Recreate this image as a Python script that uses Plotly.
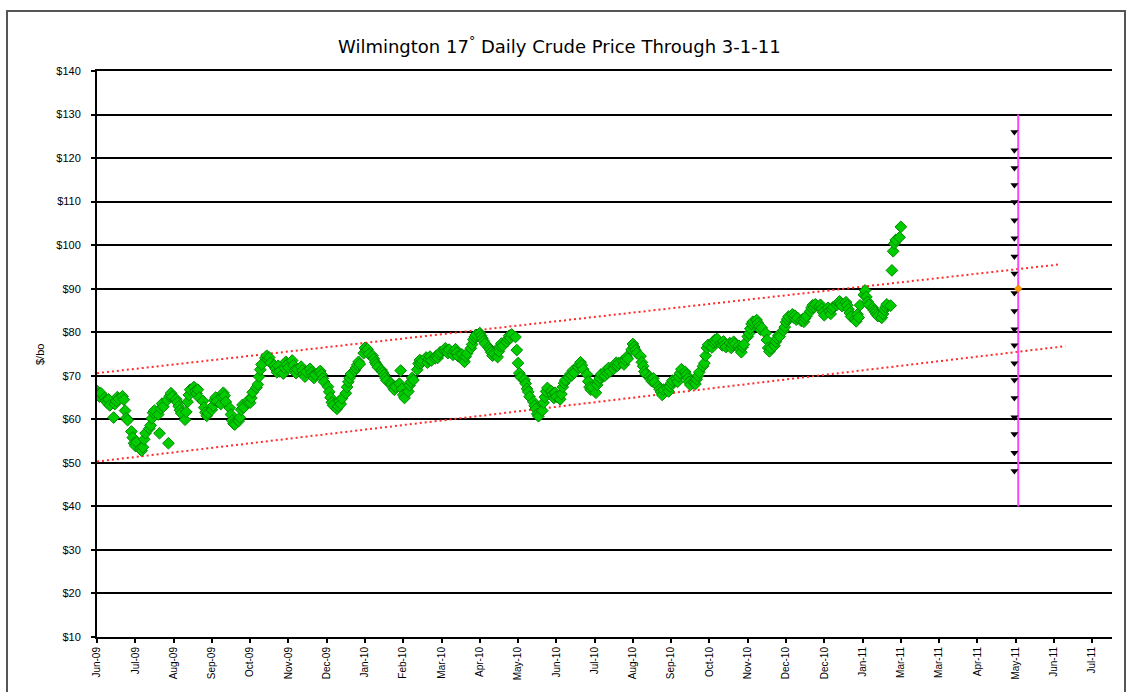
import pandas as pd
import plotly.graph_objects as go

title_text = "Wilmington 17<sup>°</sup> Daily Crude Price Through 3-1-11"
y_label = "$/bo"

# daily prices (business days) 2009-06-09 .. 2011-03-01, $/bo
price_start = "2009-06-09"
price_end = "2011-03-01"
prices = [
    66.5, 65.8, 65.2, 66.0, 64.9,
    64.3, 63.8, 64.6, 63.2, 60.4,
    63.5, 64.2, 65.1, 64.7, 65.3,
    64.5, 62.0, 60.3, 59.8, 57.2,
    55.8, 54.5, 53.9, 54.8, 53.3,
    52.8, 53.6, 55.4, 56.8, 57.9,
    58.6, 60.2, 61.5, 62.0, 61.1,
    56.8, 62.5, 63.6, 62.9, 64.4,
    54.5, 65.3, 66.0, 65.2, 64.6,
    63.9, 63.0, 62.1, 61.4, 59.9,
    61.7, 64.0, 65.6, 66.8, 67.4,
    66.5, 65.9, 66.8, 65.0, 64.2,
    62.7, 61.6, 60.8, 61.4, 62.2,
    63.1, 64.4, 65.0, 64.2, 63.5,
    65.2, 66.1, 65.4, 64.0, 62.6,
    61.1, 59.7, 59.0, 58.8, 59.6,
    60.4, 62.2, 63.3, 62.7, 63.9,
    64.5, 63.8, 64.9, 66.2, 67.3,
    68.0, 69.8, 71.4, 72.6, 74.1,
    74.6, 73.7, 74.2, 73.0, 72.4,
    71.6, 70.8, 72.3, 71.0, 70.5,
    71.8, 73.2, 72.6, 71.9, 73.5,
    72.4, 71.3, 70.6, 71.5, 72.1,
    71.2, 70.4, 69.8, 70.9, 71.6,
    70.7, 70.0, 69.5, 70.2, 70.8,
    71.1, 70.3, 69.4, 68.6, 67.5,
    66.3, 65.0, 63.9, 63.2, 62.4,
    63.0, 64.2, 63.5, 64.8, 66.0,
    67.4, 68.6, 69.5, 70.4, 71.2,
    71.8, 72.5, 73.2, 72.7, 75.2,
    76.4, 75.8, 76.1, 75.0, 74.6,
    73.9, 73.1, 72.6, 72.0, 71.3,
    70.8, 70.2, 69.5, 68.9, 68.4,
    68.0, 67.3, 66.8, 67.5, 68.2,
    71.2, 67.0, 65.6, 64.9, 66.4,
    67.8, 68.6, 69.5, 69.0, 71.4,
    72.8, 73.6, 72.9, 73.4, 74.2,
    73.0, 73.8, 74.4, 73.5, 74.0,
    74.6, 74.1, 74.9, 75.4, 75.8,
    76.3, 75.7, 75.2, 76.0, 74.8,
    75.6, 76.1, 75.3, 74.5, 74.9,
    73.6, 73.2, 74.4, 75.1, 76.3,
    77.2, 78.3, 78.9, 79.4, 79.8,
    79.2, 78.6, 78.0, 77.4, 76.5,
    76.0, 75.4, 74.6, 75.1, 74.3,
    75.6, 76.8, 77.4, 76.9, 77.8,
    78.5, 79.2, 78.7, 79.5, 78.9,
    75.9, 72.9, 70.6, 69.7, 69.1,
    68.2, 67.0, 66.3, 65.2, 64.0,
    63.1, 62.4, 61.2, 60.7, 62.0,
    63.8, 65.1, 66.4, 67.2, 66.5,
    65.7, 64.9, 66.1, 65.2, 64.6,
    65.8, 67.4, 68.3, 69.0, 69.6,
    70.4, 70.1, 71.2, 70.7, 72.0,
    72.6, 73.1, 72.4, 71.5, 70.3,
    68.7, 67.4, 66.8, 67.3, 66.1,
    67.9, 68.8, 69.5, 70.3, 70.0,
    71.2, 70.6, 71.8, 71.0, 71.6,
    72.4, 73.0, 72.3, 72.9, 73.4,
    72.6, 73.6, 74.3, 73.9, 76.0,
    77.3, 76.6, 75.9, 75.2, 74.5,
    73.1, 72.2, 71.0, 70.4, 69.8,
    69.2, 68.7, 69.4, 68.5, 67.6,
    66.9, 66.3, 65.6, 66.8, 67.2,
    66.4, 67.5, 68.3, 68.9, 69.3,
    68.6, 69.8, 70.6, 71.5, 70.9,
    70.2, 69.4, 68.6, 67.9, 68.4,
    68.1, 69.2, 70.0, 70.8, 72.2,
    72.9, 74.6, 76.4, 77.1, 76.5,
    77.6, 78.2, 77.8, 78.5, 77.4,
    77.0, 77.9, 77.2, 76.6, 77.5,
    76.4, 77.1, 77.8, 77.3, 76.9,
    76.0, 75.4, 76.6, 77.2, 79.0,
    79.7, 80.8, 81.9, 82.4, 82.8,
    82.1, 81.3, 80.6, 81.0, 79.8,
    78.2, 76.4, 75.6, 76.3, 76.9,
    77.8, 78.6, 79.3, 79.0, 80.4,
    81.2, 82.3, 83.0, 83.6, 84.1,
    83.4, 83.8, 82.9, 83.3, 82.6,
    83.0, 82.4, 83.2, 83.7, 84.8,
    85.6, 86.2, 85.8, 86.4, 85.9,
    86.3, 85.4, 84.6, 83.9, 85.6,
    84.9, 84.2, 85.3, 85.8, 86.3,
    86.8, 87.1, 86.5, 86.0, 86.9,
    86.2, 85.3, 84.4, 83.6, 83.0,
    82.5, 84.1, 83.4, 86.2, 88.6,
    89.6, 88.1, 87.0, 86.3, 85.6,
    85.0, 84.6, 84.1, 83.7, 83.3,
    84.2, 85.1, 85.8, 86.4, 86.1,
    94.2, 98.6, 100.4, 101.2, 101.8,
    104.2,
]

# dotted trend channel
upper_dates = ["2009-06-09", "2011-07-04"]
upper_values = [70.6, 95.6]
lower_dates = ["2009-06-09", "2011-07-08"]
lower_values = [50.3, 76.8]

# vertical range line and its point
range_date = ["2011-06-01", "2011-06-01"]
range_values = [40, 130]
target_date = ["2011-06-01"]
target_value = [90]

# black scale marks beside the range line
scale_value = [126.0, 121.8, 117.7, 113.8, 109.9, 105.7, 101.6, 97.4, 93.5, 89.0,
               84.9, 80.7, 77.0, 72.9, 69.0, 64.9, 60.5, 56.6, 52.3, 48.1]
scale_date = ["2011-05-29"] * len(scale_value)

x_tick_labels = ["Jun-09", "Jul-09", "Aug-09", "Sep-09", "Oct-09", "Nov-09", "Dec-09",
                 "Jan-10", "Feb-10", "Mar-10", "Apr-10", "May-10", "Jun-10", "Jul-10",
                 "Aug-10", "Sep-10", "Oct-10", "Nov-10", "Dec-10", "Dec-10", "Jan-11",
                 "Mar-11", "Mar-11", "Apr-11", "May-11", "Jun-11", "Jul-11"]
x_tick_dates = pd.date_range("2009-06-09", periods=len(x_tick_labels), freq="30D")
y_tick_values = [10, 20, 30, 40, 50, 60, 70, 80, 90, 100, 110, 120, 130, 140]
y_tick_labels = ["$" + str(v) for v in y_tick_values]

dates = pd.bdate_range(price_start, price_end)
assert len(dates) == len(prices), (len(dates), len(prices))

fig = go.Figure()
fig.add_trace(go.Scatter(x=upper_dates, y=upper_values, mode="lines",
                         line=dict(color="#FF2A2A", width=2, dash="2px,3px"),
                         hoverinfo="skip", showlegend=False))
fig.add_trace(go.Scatter(x=lower_dates, y=lower_values, mode="lines",
                         line=dict(color="#FF2A2A", width=2, dash="2px,3px"),
                         hoverinfo="skip", showlegend=False))
fig.add_trace(go.Scatter(x=range_date, y=range_values, mode="lines",
                         line=dict(color="#FF44FF", width=2),
                         showlegend=False))
fig.add_trace(go.Scatter(x=scale_date, y=scale_value, mode="markers",
                         marker=dict(symbol="triangle-down", size=7, color="black"),
                         showlegend=False))
fig.add_trace(go.Scatter(x=target_date, y=target_value, mode="markers",
                         marker=dict(symbol="diamond", size=6, color="#FF9900",
                                     line=dict(color="#CC6600", width=0.5)),
                         showlegend=False))
fig.add_trace(go.Scatter(x=dates, y=prices, mode="markers",
                         marker=dict(symbol="diamond", size=9, color="#00CC00",
                                     line=dict(color="#008800", width=1)),
                         showlegend=False))

W, H = 1133, 692
L, R, T, B = 97, 21, 71, 55
pw, ph = W - L - R, H - T - B

fig.update_layout(
    width=W, height=H,
    margin=dict(l=L, r=R, t=T, b=B),
    paper_bgcolor="white", plot_bgcolor="white",
    font=dict(family="Liberation Sans, Arial, sans-serif", color="black"),
    showlegend=False,
    xaxis=dict(type="date", range=["2009-06-09", "2011-08-13 12:00"],
               tickvals=list(x_tick_dates), ticktext=x_tick_labels,
               tickangle=-90, tickfont=dict(size=10, color="black"),
               ticks="outside", ticklen=4, tickcolor="black", tickwidth=1.5,
               showline=True, linecolor="black", linewidth=2, mirror=True,
               showgrid=False, zeroline=False),
    yaxis=dict(range=[10, 140], tickvals=y_tick_values, ticktext=y_tick_labels,
               tickfont=dict(size=11, color="black"),
               ticks="outside", ticklen=4, tickcolor="black", tickwidth=1.5,
               ticklabelstandoff=8,
               showline=True, linecolor="black", linewidth=2,
               showgrid=True, gridcolor="black", gridwidth=1.5, zeroline=False),
    annotations=[
        dict(text=title_text, xref="paper", yref="paper",
             x=(559 - L) / pw, y=(H - B - 45) / ph, xanchor="center", yanchor="middle",
             showarrow=False,
             font=dict(family="DejaVu Sans, sans-serif", size=18, color="black")),
        dict(text=y_label, xref="paper", yref="paper",
             x=(40 - L) / pw, y=(H - B - 355) / ph, xanchor="center", yanchor="middle",
             textangle=-90, showarrow=False, font=dict(size=11, color="black")),
    ],
    shapes=[
        dict(type="rect", xref="paper", yref="paper",
             x0=(7 - L) / pw, x1=(1125 - L) / pw,
             y0=(H - B - 710) / ph, y1=(H - B - 11) / ph,
             line=dict(color="#555555", width=2), fillcolor="rgba(0,0,0,0)", layer="below"),
    ],
)

fig.write_html("out.html", config={"displayModeBar": False},
               post_script="document.body.style.margin='0px';")
